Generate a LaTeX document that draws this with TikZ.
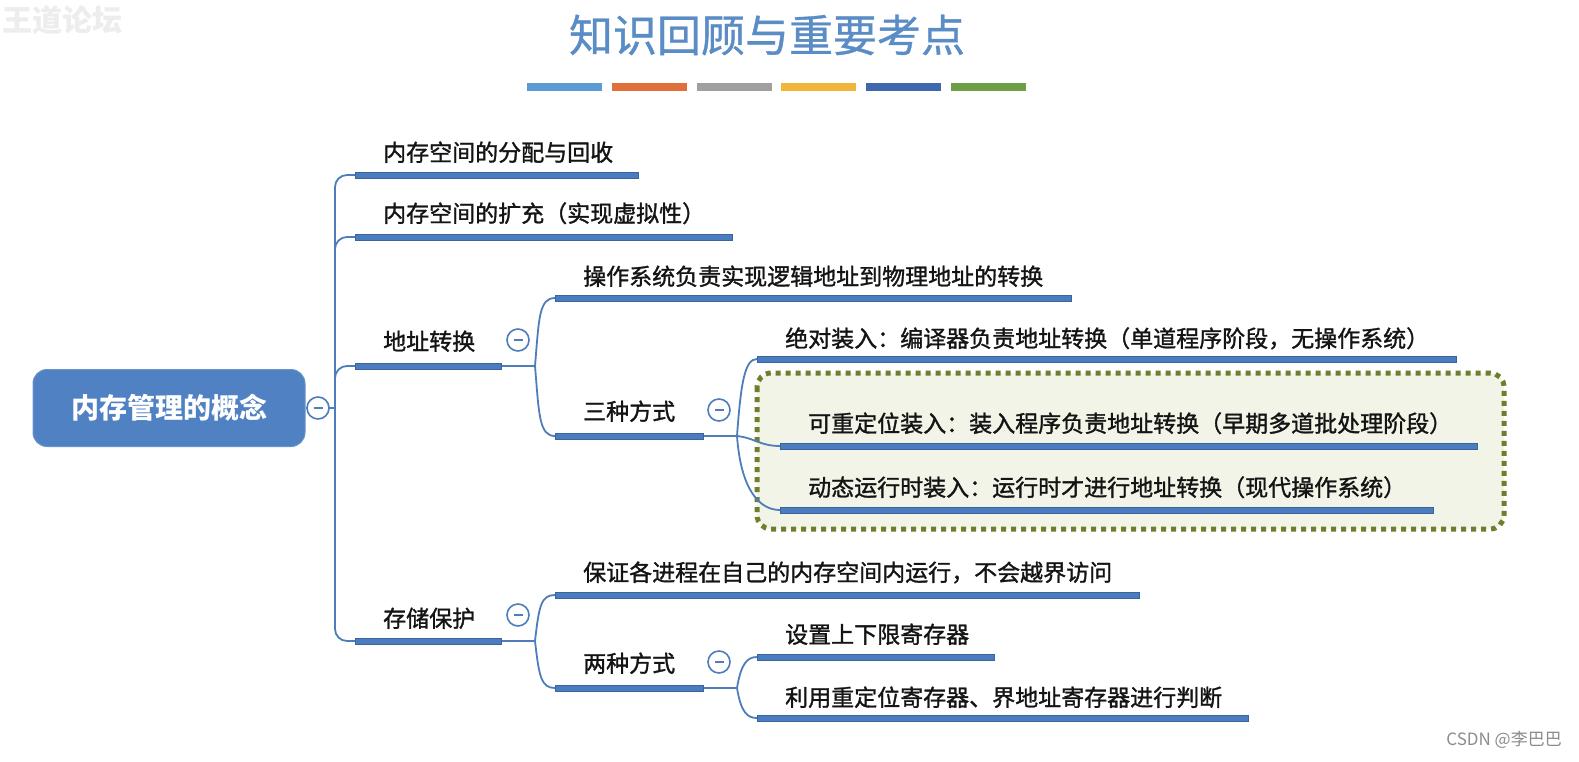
\documentclass[tikz,border=0pt]{standalone}
\usepackage{fontspec}
\newfontfamily\cjk{Noto Sans CJK SC}
\newfontfamily\cjkm[FakeBold=1.3]{Noto Sans CJK SC}
\newfontfamily\cjkt[FakeBold=0.8]{Noto Sans CJK SC}
\usetikzlibrary{calc}
\definecolor{barblue}{HTML}{4A7DC0}
\definecolor{connblue}{HTML}{4D7DBA}
\definecolor{rootblue}{HTML}{4F81C3}
\definecolor{titleblue}{HTML}{5A8CC6}
\definecolor{txt}{HTML}{141414}
\definecolor{dotgreen}{HTML}{6B7F2C}
\definecolor{boxfill}{HTML}{F2F4E7}
\definecolor{cA}{HTML}{5B9BD5}
\definecolor{cB}{HTML}{E0703A}
\definecolor{cC}{HTML}{A0A0A0}
\definecolor{cD}{HTML}{F2B53C}
\definecolor{cE}{HTML}{3F67AE}
\definecolor{cF}{HTML}{6E9F45}
\tikzset{
  bar/.style={rectangle, fill=barblue, draw=barblue!80!black, line width=0.5pt, inner sep=0pt, minimum height=6pt, anchor=west},
  lbl/.style={anchor=base west, inner sep=0pt, text=txt, font=\cjkm\fontsize{23}{23}\selectfont},
  conn/.style={draw=connblue, line width=1.8pt},
  mcirc/.style={circle, draw=connblue, line width=1.6pt, fill=white, minimum size=22pt, inner sep=0pt,
    path picture={\draw[connblue, line width=1.6pt] ([xshift=-4.5pt]path picture bounding box.center) -- ([xshift=4.5pt]path picture bounding box.center);}},
  rootbox/.style={rectangle, rounded corners=14pt, fill=rootblue, draw=rootblue!85!white, line width=1pt,
    minimum width=272pt, minimum height=77pt, text=white, font=\cjk\bfseries\fontsize{28}{28}\selectfont},
  dotbox/.style={draw=dotgreen, fill=boxfill, line width=5pt, dash pattern=on 5pt off 5pt, rounded corners=14pt},
  tbar/.style={inner sep=0pt, minimum height=8pt, minimum width=75pt, anchor=west}
}
\begin{document}
\begin{tikzpicture}[x=1pt,y=-1pt]
\fill[white] (0,0) rectangle (1579,761);
\useasboundingbox (0,0) rectangle (1579,761);

% faint watermark
\node[anchor=west, inner sep=0pt, text=black!7, font=\cjk\bfseries\fontsize{30}{30}\selectfont] (wmtl) at (2,20) {王道论坛};

% title
\node[inner sep=0pt, text=titleblue, font=\cjkt\fontsize{44}{44}\selectfont] (title) at (767,35) {知识回顾与重要考点};
\node[tbar, fill=cA] (b1) at (527,87) {};
\node[tbar, fill=cB] (b2) at (612,87) {};
\node[tbar, fill=cC] (b3) at (697,87) {};
\node[tbar, fill=cD] (b4) at (781,87) {};
\node[tbar, fill=cE] (b5) at (866,87) {};
\node[tbar, fill=cF] (b6) at (951,87) {};

% dotted highlight box
\draw[dotbox] (757,373) rectangle (1504,529);

% root
\node[rootbox] (root) at (169,408) {内存管理的概念};

% bars
\node[bar, minimum width=283pt] (u1) at (355,175) {};
\node[bar, minimum width=377pt] (u2) at (355,237) {};
\node[bar, minimum width=146pt] (u3) at (355,366) {};
\node[bar, minimum width=146pt] (u4) at (355,641) {};
\node[bar, minimum width=516pt] (u5) at (555,298) {};
\node[bar, minimum width=148pt] (u6) at (555,436) {};
\node[bar, minimum width=699pt] (u7) at (757,359) {};
\node[bar, minimum width=697pt] (u8) at (780,446) {};
\node[bar, minimum width=653pt] (u9) at (780,510) {};
\node[bar, minimum width=584pt] (u10) at (555,595) {};
\node[bar, minimum width=148pt] (u11) at (555,688) {};
\node[bar, minimum width=237pt] (u12) at (757,657) {};
\node[bar, minimum width=491pt] (u13) at (757,718) {};

% labels
\node[lbl] (t1) at (383,161) {内存空间的分配与回收};
\node[lbl] (t2) at (383,222) {内存空间的扩充（实现虚拟性）};
\node[lbl] (t3) at (383,350) {地址转换};
\node[lbl] (t4) at (383,627) {存储保护};
\node[lbl] (t5) at (583,285) {操作系统负责实现逻辑地址到物理地址的转换};
\node[lbl] (t6) at (583,420) {三种方式};
\node[lbl] (t7) at (785,347) {绝对装入：编译器负责地址转换（单道程序阶段，无操作系统）};
\node[lbl] (t8) at (808,432) {可重定位装入：装入程序负责地址转换（早期多道批处理阶段）};
\node[lbl] (t9) at (808,496) {动态运行时装入：运行时才进行地址转换（现代操作系统）};
\node[lbl] (t10) at (583,581) {保证各进程在自己的内存空间内运行，不会越界访问};
\node[lbl] (t11) at (583,672) {两种方式};
\node[lbl] (t12) at (785,643) {设置上下限寄存器};
\node[lbl] (t13) at (785,706) {利用重定位寄存器、界地址寄存器进行判断};

% junctions
\coordinate (j0) at (335,408);
\coordinate (j1) at (535,366);
\coordinate (j2) at (737,436);
\coordinate (j3) at (535,641);
\coordinate (j4) at (737,688);

% connectors
\draw[conn] (root.east) -- (318,408);
\draw[conn] (318,408) -- (j0);
\foreach \u in {u1,u2,u3,u4} \draw[conn, rounded corners=12pt] (j0) |- (\u.west);

\draw[conn] (u3.east) -- (j1);
\draw[conn] (j1) .. controls +(4,-48) and +(-16,0) .. (u5.west);
\draw[conn] (j1) .. controls +(4,48) and +(-16,0) .. (u6.west);

\draw[conn] (u6.east) -- (j2);
\draw[conn] (j2) .. controls +(4,-55) and +(-12,0) .. (u7.west);
\draw[conn] (j2) .. controls +(18,2) and +(-20,0) .. (u8.west);
\draw[conn] (j2) .. controls +(4,55) and +(-20,0) .. (u9.west);

\draw[conn] (u4.east) -- (j3);
\draw[conn] (j3) .. controls +(4,-35) and +(-14,0) .. (u10.west);
\draw[conn] (j3) .. controls +(4,35) and +(-14,0) .. (u11.west);

\draw[conn] (u11.east) -- (j4);
\draw[conn] (j4) .. controls +(4,-24) and +(-10,0) .. (u12.west);
\draw[conn] (j4) .. controls +(4,24) and +(-10,0) .. (u13.west);

% collapse circles
\node[mcirc] (c0) at (318,408) {};
\node[mcirc] (c1) at (518,340) {};
\node[mcirc] (c2) at (719,410) {};
\node[mcirc] (c3) at (518,615) {};
\node[mcirc] (c4) at (719,662) {};

% bottom-right watermark
\node[anchor=base east, inner sep=0pt, text=black!45, font=\cjk\fontsize{17}{17}\selectfont] (wm) at (1562,745) {CSDN @李巴巴};
\end{tikzpicture}
\end{document}
